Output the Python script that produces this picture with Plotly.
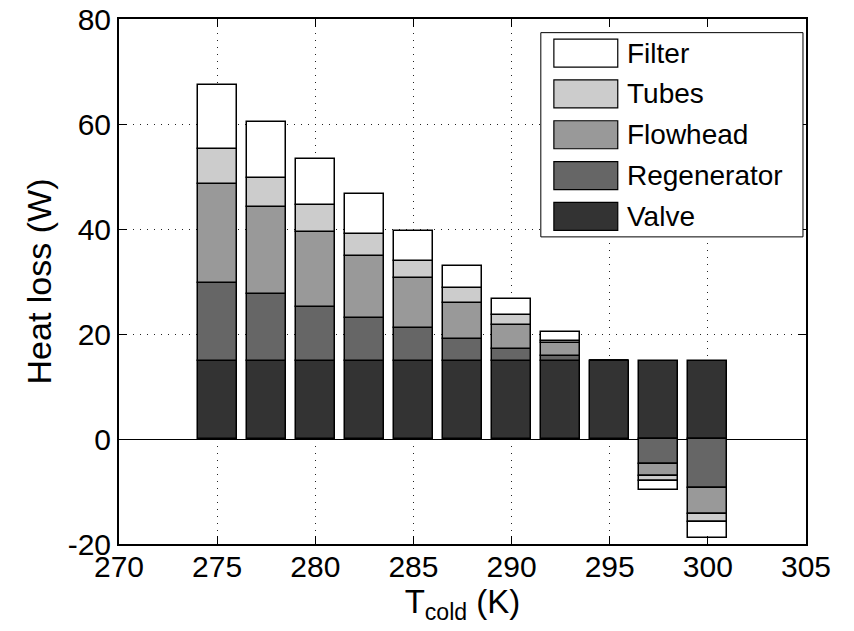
import plotly.graph_objects as go

# ---- data ----
t_cold = [275, 277.5, 280, 282.5, 285, 287.5, 290, 292.5, 295, 297.5, 300]
valve = [14.8, 14.8, 14.8, 14.8, 14.8, 14.8, 14.8, 14.8, 14.8, 14.8, 14.8]
regenerator = [15.0, 12.8, 10.3, 8.2, 6.4, 4.2, 2.3, 1.0, 0.0, -4.8, -9.3]
flowhead = [18.8, 16.5, 14.3, 11.9, 9.4, 7.0, 4.6, 2.4, 0.0, -2.2, -4.9]
tubes = [6.6, 5.7, 5.2, 4.2, 3.3, 2.7, 1.9, 0.5, 0.0, -1.0, -1.6]
filt = [12.2, 10.6, 8.8, 7.6, 5.8, 4.3, 3.1, 1.6, 0.0, -1.7, -3.0]

series_names = ["Valve", "Regenerator", "Flowhead", "Tubes", "Filter"]
series_values = [valve, regenerator, flowhead, tubes, filt]
series_colors = ["#333333", "#666666", "#999999", "#cccccc", "#ffffff"]

x_ticks = [270, 275, 280, 285, 290, 295, 300, 305]
y_ticks = [-20, 0, 20, 40, 60, 80]
y_ticktext = ["-20", "0", "20", "40", "60", "80"]

FONT = "Liberation Sans, Arial, sans-serif"

fig = go.Figure()
for name, vals, col in zip(series_names, series_values, series_colors):
    fig.add_trace(go.Bar(
        x=t_cold, y=vals, name=name, width=2.0,
        marker=dict(color=col, line=dict(color="black", width=1.5)),
    ))

# ---- manual MATLAB-style legend (top entry = Filter) ----
box_x0, box_x1 = 0.614, 0.9956
box_y0, box_y1 = 0.585, 0.974
fig.add_shape(type="rect", xref="paper", yref="paper",
              x0=box_x0, x1=box_x1, y0=box_y0, y1=box_y1,
              fillcolor="white", line=dict(color="black", width=1), layer="above")
legend_order = list(range(len(series_names)))[::-1]
row_h = (box_y1 - box_y0) / len(series_names)
patch_h = 28 / 525
for i, idx in enumerate(legend_order):
    yc = box_y1 - row_h * (i + 0.5)
    fig.add_shape(type="rect", xref="paper", yref="paper",
                  x0=0.633, x1=0.726, y0=yc - patch_h / 2, y1=yc + patch_h / 2,
                  fillcolor=series_colors[idx], line=dict(color="black", width=1.2),
                  layer="above")
    fig.add_annotation(xref="paper", yref="paper", x=0.736, y=yc,
                       text=series_names[idx], showarrow=False,
                       xanchor="left", yanchor="middle",
                       font=dict(family=FONT, size=28, color="black"))

axis_common = dict(
    showline=True, linecolor="black", linewidth=2, mirror="ticks",
    ticks="inside", ticklen=8, tickwidth=1, tickcolor="black",
    showgrid=True, gridcolor="#222222", gridwidth=1, griddash="1px,6px",
    tickfont=dict(family=FONT, size=30, color="black"),
)

fig.update_xaxes(range=[270, 305], tickvals=x_ticks, zeroline=False,
                 ticklabelstandoff=-5,
                 title=dict(text="T<sub>cold</sub> (K)", standoff=4,
                            font=dict(family=FONT, size=33, color="black")),
                 **axis_common)
fig.update_yaxes(range=[-20, 80], tickvals=y_ticks, ticktext=y_ticktext,
                 zeroline=True, zerolinecolor="black", zerolinewidth=1,
                 title=dict(text="Heat loss (W)", standoff=6,
                            font=dict(family=FONT, size=34, color="black")),
                 **axis_common)

fig.update_layout(
    width=854, height=631,
    margin=dict(l=119, r=48, t=19, b=87, autoexpand=False),
    plot_bgcolor="white", paper_bgcolor="white",
    barmode="relative", bargap=0, showlegend=False,
    font=dict(family=FONT, color="black"),
)

fig.write_html("out.html")
